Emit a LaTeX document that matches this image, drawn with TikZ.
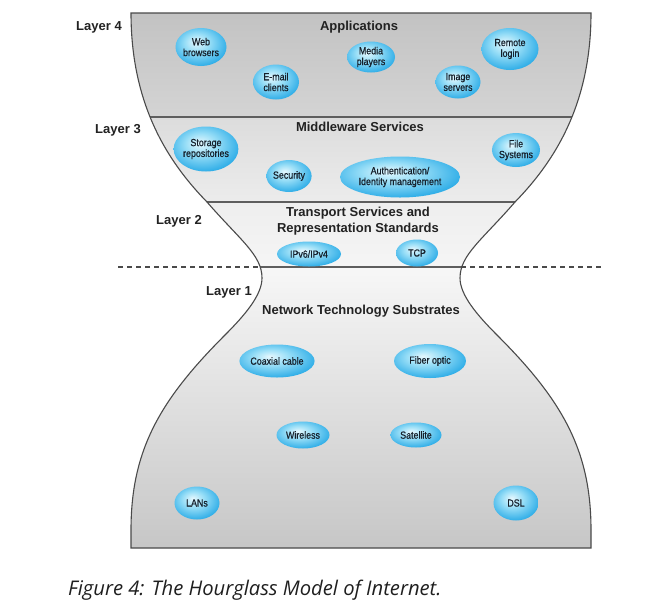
\documentclass[tikz,border=0pt]{standalone}
\usepackage{fontspec}
\setmainfont{Liberation Sans}
\newfontfamily\elfont[FakeStretch=0.86,FakeBold=0.7]{Liberation Sans}
\newfontfamily\capfont{Open Sans}
\usetikzlibrary{shapes.geometric}
\definecolor{outl}{HTML}{4A4A4A}
\definecolor{bandln}{HTML}{5E5E5E}
\definecolor{txtc}{HTML}{16202B}
\definecolor{lblc}{HTML}{222222}
\definecolor{capc}{HTML}{1F1F1F}
\definecolor{gl0}{HTML}{E6F8FE}
\definecolor{gl1}{HTML}{98DEF7}
\definecolor{gl2}{HTML}{28AAE6}
\definecolor{gl3}{HTML}{1082C8}
\definecolor{bfourt}{HTML}{C2C2C2}
\definecolor{bfourb}{HTML}{D4D4D4}
\definecolor{bthreet}{HTML}{DCDCDC}
\definecolor{bthreeb}{HTML}{ECECEC}
\definecolor{btwot}{HTML}{EEEEEE}
\definecolor{btwob}{HTML}{F5F5F5}
\definecolor{bonet}{HTML}{F7F7F7}
\definecolor{boneb}{HTML}{C6C6C6}
\pgfdeclareradialshading{glossy}{\pgfpoint{-5bp}{7bp}}{color(0bp)=(gl0); color(12bp)=(gl1); color(30bp)=(gl2); color(50bp)=(gl3); color(60bp)=(gl3)}
\tikzset{
  el/.style={ellipse, shading=glossy, inner sep=0pt, align=center,
    font=\elfont\fontsize{10.3}{10.8}\selectfont, text=txtc},
  layerlbl/.style={font=\bfseries\fontsize{13}{15}\selectfont, text=lblc},
  title/.style={font=\bfseries\fontsize{13}{16}\selectfont, text=lblc, align=center},
  outline/.style={draw=outl, line width=1.1pt},
  bandline/.style={draw=bandln, line width=1.4pt},
  dashln/.style={draw=outl, line width=1.2pt, dash pattern=on 5pt off 4pt},
}
\def\hgpath{(131,13) .. controls (131,105) and (168,162) .. (207,202)
  .. controls (240,240) and (262,255) .. (262,278)
  .. controls (262,295) and (245,315) .. (225,335)
  .. controls (160,400) and (131,450) .. (131,530) -- (131,548) -- (591,548) -- (591,530)
  .. controls (591,450) and (562,400) .. (497,335)
  .. controls (477,315) and (460,295) .. (460,278)
  .. controls (460,255) and (482,240) .. (515,202)
  .. controls (554,162) and (591,105) .. (591,13) -- cycle}
\begin{document}
\begin{tikzpicture}[x=1pt,y=-1pt]
\useasboundingbox (0,0) rectangle (666,611);
% bands
\begin{scope}
  \clip \hgpath;
  \shade[top color=bfourt, bottom color=bfourb] (100,10) rectangle (620,117);
  \shade[top color=bthreet, bottom color=bthreeb] (100,117) rectangle (620,202);
  \shade[top color=btwot, bottom color=btwob] (100,202) rectangle (620,267);
  \shade[top color=bonet, bottom color=boneb] (100,267) rectangle (620,550);
  \draw[bandline] (100,117) -- (620,117);
  \draw[bandline] (100,202) -- (620,202);
  \draw[bandline] (100,267) -- (620,267);
\end{scope}
\draw[outline] \hgpath;
% dashed separator
\coordinate (dl) at (118,267);
\coordinate (nl) at (260.6,267);
\coordinate (nr) at (461.4,267);
\coordinate (dr) at (601,267);
\draw[dashln] (dl) -- (nl);
\draw[dashln] (nr) -- (dr);
% layer labels
\node[layerlbl] (l4) at (99,27) {Layer 4};
\node[layerlbl] (l3) at (118,130) {Layer 3};
\node[layerlbl] (l2) at (179,221) {Layer 2};
\node[layerlbl] (l1) at (229,292) {Layer 1};
% titles
\node[title] (t4) at (359,27) {Applications};
\node[title] (t3) at (360,127) {Middleware Services};
\node[title] (t2) at (358,221) {Transport Services and\\Representation Standards};
\node[title] (t1) at (361,311) {Network Technology Substrates};
% layer 4
\node[el, minimum width=51pt, minimum height=38pt] (web) at (201,47) {Web\\browsers};
\node[el, minimum width=46pt, minimum height=35pt] (mail) at (276,82) {E-mail\\clients};
\node[el, minimum width=48pt, minimum height=31pt] (media) at (371,57) {Media\\players};
\node[el, minimum width=45pt, minimum height=33pt] (image) at (458,82) {Image\\servers};
\node[el, minimum width=57pt, minimum height=42pt] (remote) at (510,49) {Remote\\login};
% layer 3
\node[el, minimum width=64pt, minimum height=45pt] (storage) at (206,149) {Storage\\repositories};
\node[el, minimum width=48pt, minimum height=34pt] (files) at (516,150) {File\\Systems};
\node[el, minimum width=42pt, minimum height=32pt] (sec) at (289,176) {Security};
\node[el, minimum width=120pt, minimum height=41pt] (auth) at (400,177) {Authentication/\\Identity management};
% layer 2
\node[el, minimum width=64pt, minimum height=25pt] (ip) at (309,254) {IPv6/IPv4};
\node[el, minimum width=42pt, minimum height=27pt] (tcp) at (417,253) {TCP};
% layer 1
\node[el, minimum width=75pt, minimum height=33pt] (coax) at (277,361) {Coaxial cable};
\node[el, minimum width=72pt, minimum height=34pt] (fiber) at (430,361) {Fiber optic};
\node[el, minimum width=53pt, minimum height=27pt] (wless) at (303,435) {Wireless};
\node[el, minimum width=51pt, minimum height=25pt] (sat) at (416,435) {Satellite};
\node[el, minimum width=45pt, minimum height=33pt] (lans) at (197,503) {LANs};
\node[el, minimum width=45pt, minimum height=35pt] (dsl) at (516,503) {DSL};
% caption
\node[anchor=base west, inner sep=0pt, font=\capfont\itshape\fontsize{20.2}{23}\selectfont, text=capc] (cap) at (68,595) {Figure 4: The Hourglass Model of Internet.};
\end{tikzpicture}
\end{document}
